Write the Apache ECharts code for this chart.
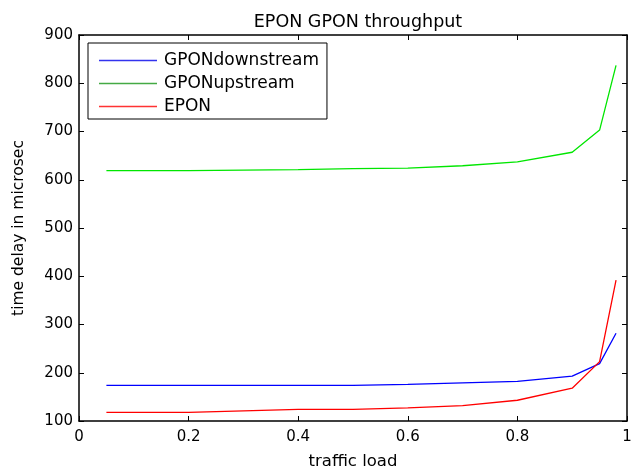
<!DOCTYPE html>
<html>
<head>
<meta charset="utf-8">
<script src="https://cdn.jsdelivr.net/npm/echarts@6/dist/echarts.min.js"></script>
<style>
  html, body { margin: 0; padding: 0; background: #fff; }
  #chart { width: 637px; height: 468px; }
</style>
</head>
<body>
<div id="chart"></div>
<script>
// traffic load values (x)
const loads = [0.05, 0.2, 0.4, 0.5, 0.6, 0.7, 0.8, 0.9, 0.95, 0.98]
// time delay in microsec
const gponDown = [174, 174, 174, 174, 176, 179, 182, 193, 219, 282]
const gponUp = [619, 619, 621, 623, 624, 629, 637, 657, 703, 837]
const epon = [118, 118, 124, 124, 127, 132, 143, 168, 223, 392]

const xTicks = [0, 0.2, 0.4, 0.6, 0.8, 1]
const yTicks = [100, 200, 300, 400, 500, 600, 700, 800, 900]

function pairs(ys) {
  return loads.map((x, i) => [x, ys[i]])
}

// the picture is a bit stretched sideways, DejaVu is wider than Arial so it fits better
const font = 'DejaVu Sans, sans-serif'
const chart = echarts.init(document.getElementById('chart'))

const option = {
  animation: false,
  title: {
    text: 'EPON GPON throughput',
    left: 353, // middle of the plot area, not of the page
    textAlign: 'center',
    top: 8,
    textStyle: {fontFamily: font, fontSize: 17.5, fontWeight: 'normal', color: '#000'}
  },
  grid: {left: 79, right: 10, top: 35, bottom: 47, outerBoundsMode: 'none'},
  legend: {
    orient: 'vertical',
    left: 88,
    top: 43,
    padding: [9, 8, 4, 11],
    itemGap: 6,
    itemWidth: 58,
    itemHeight: 1.5,
    icon: 'rect',
    borderColor: '#000',
    borderWidth: 1,
    borderRadius: 0,
    backgroundColor: '#fff',
    textStyle: {fontFamily: font, fontSize: 17, color: '#000', lineHeight: 17, padding: [0, 0, 0, 2]},
    data: ['GPONdownstream', 'GPONupstream', 'EPON']
  },
  xAxis: [{
    type: 'value',
    min: 0, max: 1, interval: 0.2,
    name: 'traffic load',
    nameLocation: 'middle',
    nameGap: 32,
    nameTextStyle: {fontFamily: font, fontSize: 16.5, color: '#000'},
    axisLine: {onZero: false, lineStyle: {color: '#000', width: 1.5}},
    axisTick: {inside: true, length: 5, lineStyle: {color: '#000'}},
    axisLabel: {fontFamily: font, fontSize: 15, color: '#000', margin: 9,
      formatter: v => xTicks.includes(+v.toFixed(1)) ? String(+v.toFixed(1)) : ''},
    splitLine: {show: false}
  }, {
    type: 'value', position: 'top',
    min: 0, max: 1, interval: 0.2,
    axisLine: {show: true, onZero: false, lineStyle: {color: '#000', width: 1.5}},
    axisTick: {inside: true, length: 5, lineStyle: {color: '#000'}},
    axisLabel: {show: false},
    splitLine: {show: false}
  }],
  yAxis: [{
    type: 'value',
    min: 100, max: 900, interval: 100,
    name: 'time delay in microsec',
    nameLocation: 'middle',
    nameGap: 52,
    nameTextStyle: {fontFamily: font, fontSize: 15.5, color: '#000'},
    axisLine: {show: true, onZero: false, lineStyle: {color: '#000', width: 1.5}},
    axisTick: {show: true, inside: true, length: 5, lineStyle: {color: '#000'}},
    axisLabel: {fontFamily: font, fontSize: 15, color: '#000', margin: 6,
      formatter: v => yTicks.includes(v) ? String(v) : ''},
    splitLine: {show: false}
  }, {
    type: 'value', position: 'right',
    min: 100, max: 900, interval: 100,
    axisLine: {show: true, onZero: false, lineStyle: {color: '#000', width: 1.5}},
    axisTick: {show: true, inside: true, length: 5, lineStyle: {color: '#000'}},
    axisLabel: {show: false},
    splitLine: {show: false}
  }],
  series: [
    {name: 'GPONdownstream', type: 'line', data: pairs(gponDown), showSymbol: false,
      lineStyle: {color: '#0000ff', width: 1.3}, itemStyle: {color: '#3333ee'}},
    {name: 'GPONupstream', type: 'line', data: pairs(gponUp), showSymbol: false,
      lineStyle: {color: '#00e600', width: 1.3}, itemStyle: {color: '#44aa44'}},
    {name: 'EPON', type: 'line', data: pairs(epon), showSymbol: false,
      lineStyle: {color: '#ff0000', width: 1.3}, itemStyle: {color: '#ff3333'}}
  ]
}

chart.setOption(option)
</script>
</body>
</html>
